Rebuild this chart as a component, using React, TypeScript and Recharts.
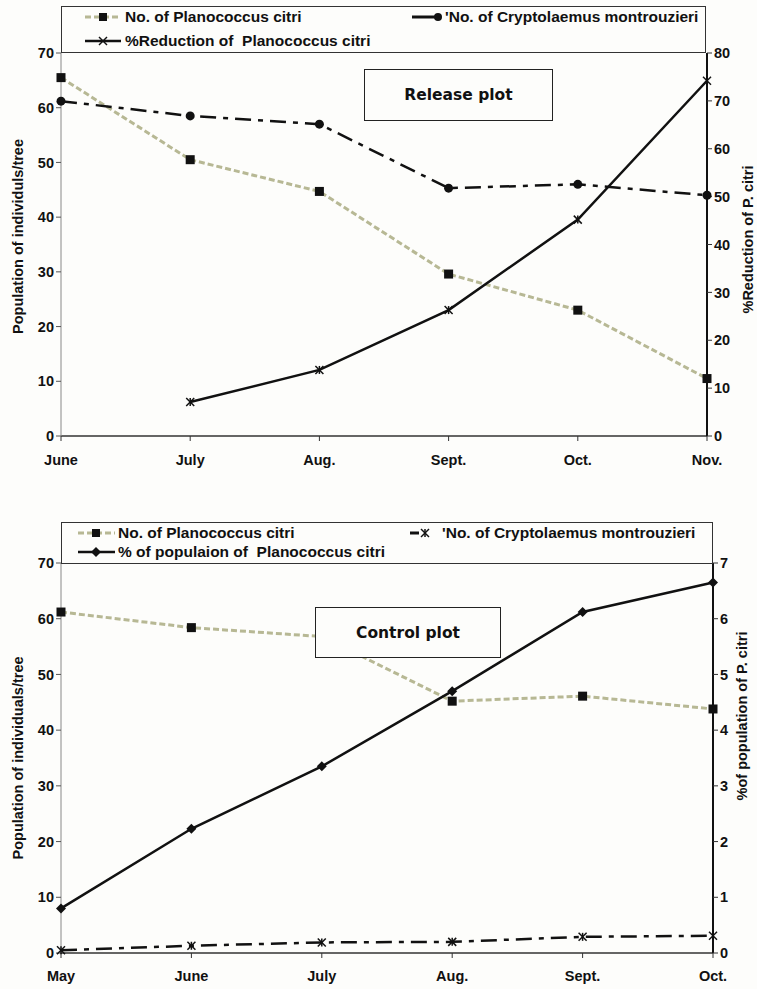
import React from "react";
import { LineChart, Line, XAxis, YAxis, Legend, Label } from "recharts";

// Release plot
const releaseMonths = ["June", "July", "Aug.", "Sept.", "Oct.", "Nov."];
const releasePlanococcus = [65.5, 50.5, 44.7, 29.6, 23.0, 10.5];
const releaseCryptolaemus = [61.2, 58.5, 57.0, 45.3, 46.0, 44.0];
const releaseReduction = [null, 7.1, 13.8, 26.3, 45.2, 74.2];

// Control plot
const controlMonths = ["May", "June", "July", "Aug.", "Sept.", "Oct."];
const controlPlanococcus = [61.2, 58.4, 56.8, 45.2, 46.1, 43.8];
const controlCryptolaemus = [0.5, 1.3, 1.9, 2.0, 2.9, 3.1];
const controlPercent = [0.8, 2.23, 3.35, 4.7, 6.12, 6.65];

const leftTicks = [0, 10, 20, 30, 40, 50, 60, 70];
const releaseRightTicks = [0, 10, 20, 30, 40, 50, 60, 70, 80];
const controlRightTicks = [0, 1, 2, 3, 4, 5, 6, 7];

const releaseData = releaseMonths.map((m, i) => ({
  month: m,
  planococcus: releasePlanococcus[i],
  cryptolaemus: releaseCryptolaemus[i],
  reduction: releaseReduction[i],
}));

const controlData = controlMonths.map((m, i) => ({
  month: m,
  planococcus: controlPlanococcus[i],
  cryptolaemus: controlCryptolaemus[i],
  percent: controlPercent[i],
}));

const FONT = "'Liberation Sans', Arial, sans-serif";
const INK = "#111";
const PALE = "#b7b894";
const tickStyle = { fontSize: 14.5, fontWeight: 700, fill: INK, fontFamily: FONT };

const SquareDot = (p: any) =>
  p.cy == null ? <g /> : <rect x={p.cx - 4.5} y={p.cy - 4.5} width={9} height={9} fill={INK} />;
const CircleDot = (p: any) =>
  p.cy == null ? <g /> : <circle cx={p.cx} cy={p.cy} r={4.5} fill={INK} />;
const CrossDot = (p: any) =>
  p.cy == null ? (
    <g />
  ) : (
    <g stroke={INK} strokeWidth={1.5}>
      <line x1={p.cx - 4} y1={p.cy - 4} x2={p.cx + 4} y2={p.cy + 4} />
      <line x1={p.cx - 4} y1={p.cy + 4} x2={p.cx + 4} y2={p.cy - 4} />
      <line x1={p.cx} y1={p.cy - 4} x2={p.cx} y2={p.cy + 4} />
    </g>
  );
const DiamondDot = (p: any) =>
  p.cy == null ? (
    <g />
  ) : (
    <polygon
      points={`${p.cx},${p.cy - 5} ${p.cx + 5},${p.cy} ${p.cx},${p.cy + 5} ${p.cx - 5},${p.cy}`}
      fill={INK}
    />
  );

const vLabel = (text: string, dx: number, dy: number) => (props: any) => {
  const vb = props.viewBox;
  const x = vb.x + dx;
  const y = vb.y + vb.height / 2 + dy;
  return (
    <text
      x={x}
      y={y}
      transform={`rotate(-90 ${x} ${y})`}
      textAnchor="middle"
      dominantBaseline="central"
      style={{ fontSize: 14.5, fontWeight: 700, fill: INK, fontFamily: FONT }}
    >
      {text}
    </text>
  );
};

const legendText = {
  fontSize: 15.5,
  fontWeight: 700,
  fill: INK,
  fontFamily: FONT,
  whiteSpace: "pre" as const,
};

const ReleaseLegend = () => (
  <svg width={645} height={47} style={{ display: "block" }}>
    <rect x={0.5} y={0.5} width={644} height={46} fill="none" stroke="#333" />
    <line x1={24} y1={11} x2={60} y2={11} stroke={PALE} strokeWidth={3} strokeDasharray="6 3" />
    <rect x={38} y={7} width={8} height={8} fill={INK} />
    <text x={64} y={16} style={legendText}>No. of Planococcus citri</text>
    <line x1={24} y1={35} x2={60} y2={35} stroke={INK} strokeWidth={2.5} />
    <g stroke={INK} strokeWidth={1.5}>
      <line x1={38} y1={31} x2={46} y2={39} />
      <line x1={38} y1={39} x2={46} y2={31} />
    </g>
    <text x={64} y={40} style={legendText}>%Reduction of  Planococcus citri</text>
    <line x1={351} y1={11} x2={375} y2={11} stroke={INK} strokeWidth={3} />
    <circle cx={377} cy={11} r={4} fill={INK} />
    <text x={384} y={16} style={legendText}>'No. of Cryptolaemus montrouzieri</text>
  </svg>
);

const ControlLegend = () => (
  <svg width={652} height={42} style={{ display: "block" }}>
    <rect x={0.5} y={0.5} width={651} height={41} fill="none" stroke="#333" />
    <line x1={17} y1={11} x2={54} y2={11} stroke={PALE} strokeWidth={3} strokeDasharray="6 3" />
    <rect x={31} y={7} width={8} height={8} fill={INK} />
    <text x={57} y={16} style={legendText}>No. of Planococcus citri</text>
    <line x1={17} y1={30} x2={54} y2={30} stroke={INK} strokeWidth={2.5} />
    <polygon points="35,25 40,30 35,35 30,30" fill={INK} />
    <text x={57} y={35} style={legendText}>% of populaion of  Planococcus citri</text>
    <line x1={349} y1={11} x2={358} y2={11} stroke={INK} strokeWidth={3} />
    <g stroke={INK} strokeWidth={1.5}>
      <line x1={360} y1={7} x2={368} y2={15} />
      <line x1={360} y1={15} x2={368} y2={7} />
      <line x1={364} y1={7} x2={364} y2={15} />
    </g>
    <text x={381} y={16} style={legendText}>'No. of Cryptolaemus montrouzieri</text>
  </svg>
);

const titleBox = (left: number, top: number, w: number, h: number, text: string) => (
  <div
    style={{
      position: "absolute",
      left,
      top,
      width: w,
      height: h,
      border: "1.5px solid #222",
      boxSizing: "border-box",
      display: "flex",
      alignItems: "center",
      justifyContent: "center",
      fontFamily: "'DejaVu Sans', Verdana, sans-serif",
      fontWeight: 700,
      fontSize: 15.5,
      color: INK,
      background: "#fdfdfb",
      pointerEvents: "none",
    }}
  >
    {text}
  </div>
);

export default function App() {
  return (
    <div
      style={{
        position: "absolute",
        left: 0,
        top: 0,
        width: 757,
        height: 989,
        background: "#fdfdfb",
        overflow: "hidden",
      }}
    >
      <div style={{ position: "absolute", left: 0, top: 0, width: 757, height: 480 }}>
        <LineChart
          width={757}
          height={480}
          data={releaseData}
          margin={{ top: 53, right: 0, bottom: 14, left: 0 }}
        >
          <XAxis
            dataKey="month"
            interval={0}
            height={30}
            tick={tickStyle}
            tickSize={5}
            tickMargin={14}
            tickLine={{ stroke: "#333" }}
            axisLine={{ stroke: "#333", strokeWidth: 1.5 }}
          />
          <YAxis
            yAxisId="left"
            domain={[0, 70]}
            ticks={leftTicks}
            width={61}
            tick={tickStyle}
            tickSize={5}
            tickLine={{ stroke: "#555" }}
            axisLine={{ stroke: "#888", strokeWidth: 1 }}
          >
            <Label content={vLabel("Population of individuls/tree", 18, -8)} />
          </YAxis>
          <YAxis
            yAxisId="right"
            orientation="right"
            domain={[0, 80]}
            ticks={releaseRightTicks}
            width={50}
            tick={tickStyle}
            tickSize={5}
            tickLine={{ stroke: "#333" }}
            axisLine={{ stroke: INK, strokeWidth: 2 }}
          >
            <Label content={vLabel("%Reduction of P. citri", 41, -5)} />
          </YAxis>
          <Legend
            verticalAlign="middle"
            layout="horizontal"
            content={() => <ReleaseLegend />}
            wrapperStyle={{ left: 61, top: 6, width: 645, height: 47 }}
          />
          <Line
            yAxisId="left"
            dataKey="planococcus"
            stroke={PALE}
            strokeWidth={3}
            strokeDasharray="6 3"
            dot={SquareDot}
            isAnimationActive={false}
          />
          <Line
            yAxisId="left"
            dataKey="cryptolaemus"
            stroke={INK}
            strokeWidth={2.5}
            strokeDasharray="16 7 5 7"
            dot={CircleDot}
            isAnimationActive={false}
          />
          <Line
            yAxisId="right"
            dataKey="reduction"
            stroke={INK}
            strokeWidth={2.5}
            dot={CrossDot}
            isAnimationActive={false}
          />
        </LineChart>
        {titleBox(364, 69, 189, 52, "Release plot")}
      </div>

      <div style={{ position: "absolute", left: 0, top: 480, width: 757, height: 509 }}>
        <LineChart
          width={757}
          height={509}
          data={controlData}
          margin={{ top: 83, right: 0, bottom: 6, left: 0 }}
        >
          <XAxis
            dataKey="month"
            interval={0}
            height={30}
            tick={tickStyle}
            tickSize={5}
            tickMargin={13}
            tickLine={{ stroke: "#333" }}
            axisLine={{ stroke: "#333", strokeWidth: 1.5 }}
          />
          <YAxis
            yAxisId="left"
            domain={[0, 70]}
            ticks={leftTicks}
            width={61}
            tick={tickStyle}
            tickSize={5}
            tickLine={{ stroke: "#555" }}
            axisLine={{ stroke: "#888", strokeWidth: 1 }}
          >
            <Label content={vLabel("Population of individuals/tree", 18, 0)} />
          </YAxis>
          <YAxis
            yAxisId="right"
            orientation="right"
            domain={[0, 7]}
            ticks={controlRightTicks}
            width={44}
            tick={tickStyle}
            tickSize={5}
            tickLine={{ stroke: "#333" }}
            axisLine={{ stroke: INK, strokeWidth: 2 }}
          >
            <Label content={vLabel("%of population of P. citri", 29, -42)} />
          </YAxis>
          <Legend
            verticalAlign="middle"
            layout="horizontal"
            content={() => <ControlLegend />}
            wrapperStyle={{ left: 61, top: 42, width: 652, height: 42 }}
          />
          <Line
            yAxisId="left"
            dataKey="planococcus"
            stroke={PALE}
            strokeWidth={3}
            strokeDasharray="6 3"
            dot={SquareDot}
            isAnimationActive={false}
          />
          <Line
            yAxisId="left"
            dataKey="cryptolaemus"
            stroke={INK}
            strokeWidth={2.5}
            strokeDasharray="16 7 5 7"
            dot={CrossDot}
            isAnimationActive={false}
          />
          <Line
            yAxisId="right"
            dataKey="percent"
            stroke={INK}
            strokeWidth={2.5}
            dot={DiamondDot}
            isAnimationActive={false}
          />
        </LineChart>
        {titleBox(315, 127, 186, 51, "Control plot")}
      </div>
    </div>
  );
}
